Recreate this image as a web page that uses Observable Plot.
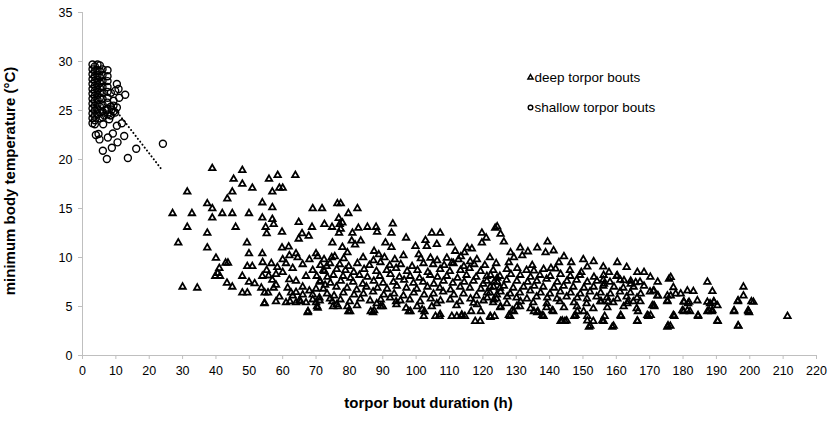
<!DOCTYPE html>
<html>
<head>
<meta charset="utf-8">
<script src="https://cdn.jsdelivr.net/npm/d3@7"></script>
<script src="https://cdn.jsdelivr.net/npm/@observablehq/plot@0.6"></script>
<style>
  html, body { margin: 0; padding: 0; background: #fff; }
  #chart { width: 829px; height: 421px; }
</style>
</head>
<body>
<div id="chart"></div>
<script>
const xTicks = [0,10,20,30,40,50,60,70,80,90,100,110,120,130,140,150,160,170,180,190,200,210,220];
const yTicks = [0,5,10,15,20,25,30,35];
const xTitle = "torpor bout duration (h)";
const yTitle = "minimum body temperature (°C)";
const legendLabels = ["deep torpor bouts", "shallow torpor bouts"];

// dotted trend line (duration h, Tb min °C)
const trendLine = [[9.8,25.1],[23.7,19.0]];

// shallow torpor bouts: [duration h, minimum Tb °C]
const shallowBouts = [
  [3.0,29.7],[3.0,29.2],[3.0,28.7],[3.0,28.2],[3.0,27.7],[3.0,27.2],[3.0,26.7],[3.0,26.2],[3.0,25.7],[3.0,25.2],[3.0,24.7],[3.0,24.2],[3.0,23.7],
  [3.7,29.5],[3.7,29.0],[3.7,28.5],[3.7,28.0],[3.7,27.5],[3.7,27.0],[3.7,26.5],[3.7,26.0],[3.7,25.5],[3.7,25.0],[3.7,24.5],[3.7,24.0],[3.7,23.6],
  [4.5,29.7],[4.5,29.1],[4.5,28.6],[4.5,28.1],[4.5,27.6],[4.5,27.1],[4.5,26.6],[4.5,26.1],[4.5,25.6],[4.5,25.1],[4.5,24.6],
  [5.2,29.6],[5.2,29.0],[5.2,28.4],[5.2,27.8],[5.2,27.3],[5.2,26.8],[5.2,26.3],[5.2,25.4],[5.2,24.8],[5.2,24.2],
  [6.0,29.2],[6.0,28.6],[6.0,28.0],[6.0,27.4],[6.0,26.8],[6.0,26.2],[6.0,25.6],[6.0,24.9],[6.0,24.3],
  [7.5,29.1],[7.5,28.5],[7.5,28.0],[7.5,27.4],[7.5,26.9],[7.5,26.3],[7.5,25.8],[7.5,25.2],[7.5,24.6],
  [8.5,26.8],[8.5,25.4],[8.5,24.5],
  [10.3,27.7],[12.8,26.6],[9.8,27.0],[9.3,26.0],[10.3,25.3],[9.3,24.9],[10.8,27.2],[11.0,26.3],[8.0,24.1],[6.5,24.5],
  [7.3,25.0],[8.8,25.1],[9.3,25.5],[8.3,24.5],[9.8,24.8],
  [4.8,22.6],[5.1,22.05],[4.0,22.5],[6.1,20.9],[7.3,20.05],[7.6,22.25],[9.1,22.65],[8.8,21.2],[10.5,21.75],
  [12.5,22.4],[11.8,23.7],[10.3,23.45],[13.6,20.15],[16.1,21.1],[24.1,21.6],[6.2,23.6]
];

// deep torpor bouts: [duration h, minimum Tb °C]
const deepBouts = [
  // 25-73 h
  [38.9,19.1],[47.9,18.9],[45.3,18.0],[47.9,17.5],[50.9,17.1],[55.9,18.0],[58.5,18.4],[63.8,18.4],[59.0,17.1],[60.0,17.1],
  [56.9,16.7],[44.9,16.7],[43.4,16.0],[31.4,16.7],[37.4,15.5],[38.9,15.0],[38.9,14.05],[27.0,14.5],[32.8,14.5],[41.9,14.5],
  [44.9,14.5],[49.9,14.5],[53.9,15.6],[56.9,15.1],[53.9,14.05],[56.9,13.9],[57.3,13.4],[54.9,13.1],[55.2,12.45],[59.8,12.6],
  [64.8,13.6],[69.0,15.0],[71.8,15.0],[45.9,13.1],[31.4,13.1],[37.4,12.5],[28.7,11.5],[37.4,11.0],[49.3,11.5],[49.9,10.4],
  [53.9,10.4],[59.8,11.0],[61.8,11.1],[64.0,10.4],[64.5,10.0],[65.8,12.45],[67.8,12.2],[68.8,13.1],[64.8,11.9],[72.5,13.4],
  [70.0,10.4],[70.5,10.1],[40.0,9.95],[42.9,9.45],[43.6,9.45],[41.0,8.9],[40.5,8.4],[39.8,8.1],[41.2,8.1],[49.4,9.1],
  [50.9,9.1],[54.0,9.5],[56.6,9.4],[58.4,9.0],[61.0,9.4],[55.2,8.7],[47.9,8.1],[49.9,7.5],[51.6,7.35],[53.9,8.1],
  [55.8,8.15],[56.9,7.7],[43.3,7.4],[44.9,7.0],[30.0,7.0],[34.4,6.9],[47.9,6.4],[49.4,6.4],[53.6,6.9],[54.6,6.4],
  [55.6,6.4],[57.3,6.9],[58.0,7.2],[54.6,5.35],[62.0,7.75],[64.0,7.6],[61.5,6.9],[62.5,6.4],[64.0,6.45],[61.0,5.4],
  [64.0,5.4],[67.0,5.4],[69.0,5.7],[67.5,4.4],[70.5,4.85],[67.0,8.1],[69.0,8.7],[70.2,8.1],[71.2,7.6],[72.7,7.2],
  [72.2,8.7],[73.2,9.1],
  [60.0,8.5],[63.0,8.9],[66.0,9.3],[68.0,9.8],[66.0,7.0],[68.0,6.6],[70.0,6.8],[59.0,6.0],[63.0,6.1],[66.0,6.2],
  [69.0,6.2],[71.0,5.9],[58.0,5.5],[65.0,5.6],[70.0,5.4],[60.0,9.8],[62.0,10.2],[58.0,8.3],[54.5,5.3],[62.2,5.5],[65.4,5.5],
  // 71-125 h, scattered
  [76.4,15.5],[77.4,15.5],[82.4,15.0],[79.7,14.5],[76.8,14.0],[74.8,13.1],[77.1,13.4],[77.9,13.55],[80.9,12.5],[82.7,13.0],
  [85.4,13.1],[88.0,13.1],[88.3,12.6],[93.0,13.45],[92.6,12.5],[97.0,12.0],[90.8,11.5],[92.6,11.05],[74.9,11.5],[76.9,12.5],
  [77.4,12.9],[80.7,11.7],[81.7,11.3],[83.4,11.7],[87.4,10.65],[88.8,10.3],[77.9,11.05],[79.4,10.5],[74.7,10.0],[99.8,11.15],
  [100.8,10.3],[102.8,11.75],[104.7,12.5],[107.2,12.5],[106.2,11.35],[103.2,11.15],[104.3,9.95],[111.7,10.65],[114.5,10.5],[116.7,10.9],
  [119.7,12.5],[119.7,11.5],[123.7,13.0],[109.2,9.95],[110.7,9.45],[112.7,9.8],[116.2,9.6],[110.3,11.5],[115.3,11.0],
  [74.9,5.5],[79.4,5.0],[79.7,4.5],[86.4,4.5],[89.4,5.0],[94.0,5.5],[97.0,4.85],[97.8,4.5],[101.8,4.7],[104.7,5.0],
  [105.8,4.0],[110.7,4.0],[113.7,4.15],[117.7,3.5],[122.2,4.0],[117.2,5.35],
  // 71-125 h, dense core
  [72.4,9.8],[75.6,10.1],[78.3,9.9],[84.1,10.0],[87.2,9.7],[90.5,10.0],[93.6,9.8],[96.2,10.2],[101.4,9.9],[106.3,9.7],[113.4,10.1],[118.2,9.8],[122.1,10.0],
  [71.3,9.2],[74.2,9.4],[77.1,9.3],[79.8,9.1],[82.4,9.4],[86.0,9.2],[89.3,9.5],[92.1,9.2],[95.4,9.3],[98.8,9.1],[102.2,9.4],[105.1,9.3],[108.4,9.2],[111.2,9.4],[114.3,9.1],[117.4,9.3],[120.6,9.2],[124.0,9.4],
  [72.5,8.6],[76.2,8.8],[78.8,8.7],[81.3,8.5],[84.4,8.8],[88.1,8.6],[91.2,8.7],[94.0,8.9],[97.3,8.6],[100.4,8.7],[103.5,8.5],[107.2,8.8],[110.1,8.6],[113.3,8.7],[116.0,8.9],[119.3,8.6],[123.1,8.7],
  [73.4,8.0],[75.2,8.2],[78.1,8.1],[80.3,7.9],[83.0,8.2],[85.4,8.0],[89.1,8.1],[92.3,8.3],[95.0,8.0],[98.2,8.1],[101.0,7.9],[104.2,8.2],[106.4,8.0],[109.2,8.1],[112.4,7.9],[115.1,8.2],[118.0,8.0],[121.2,8.1],[124.3,7.9],
  [71.2,7.5],[74.3,7.4],[77.4,7.6],[81.1,7.5],[84.0,7.3],[87.3,7.6],[90.1,7.4],[93.2,7.5],[96.4,7.7],[99.2,7.4],[102.1,7.5],[105.3,7.3],[108.2,7.6],[111.0,7.4],[114.4,7.5],[117.2,7.6],[120.1,7.3],[123.4,7.5],
  [72.2,6.8],[76.1,7.0],[79.3,6.9],[82.2,6.7],[85.1,7.0],[88.4,6.9],[91.3,6.8],[94.2,7.1],[97.1,6.9],[100.2,6.8],[103.4,7.0],[107.1,6.9],[110.3,6.7],[113.2,7.0],[116.1,6.9],[119.4,6.8],[122.2,7.0],[125.1,6.9],
  [73.3,6.3],[75.4,6.1],[78.2,6.4],[81.4,6.2],[84.2,6.3],[87.1,6.5],[90.3,6.2],[93.4,6.3],[96.2,6.1],[99.3,6.4],[102.4,6.2],[105.2,6.3],[108.1,6.5],[111.3,6.2],[114.2,6.3],[118.1,6.1],[121.3,6.4],[124.2,6.2],
  [71.1,5.6],[74.2,5.8],[77.3,5.7],[80.1,5.5],[83.3,5.8],[86.2,5.6],[89.4,5.7],[92.2,5.9],[95.3,5.6],[98.1,5.7],[101.2,5.5],[104.4,5.8],[107.3,5.6],[110.2,5.7],[113.1,5.5],[116.3,5.8],[120.2,5.6],[123.3,5.7],
  [76.2,5.2],[82.3,5.1],[88.2,5.3],[94.1,5.2],[100.3,5.0],[106.2,5.3],[112.1,5.1],[118.3,5.2],
  // 121-175 h, scattered
  [124.3,13.15],[125.3,12.4],[136.3,11.0],[138.8,10.5],[128.3,10.5],[131.8,10.2],[129.3,10.0],[127.8,9.5],[144.3,10.1],[142.8,9.5],
  [141.8,8.85],[134.8,9.2],[135.3,8.65],[151.3,9.05],[149.5,8.5],[156.1,9.05],[157.8,8.5],[166.3,8.5],[168.3,8.5],[160.3,8.15],
  [162.3,7.65],[164.3,7.3],[165.8,7.45],[156.1,7.7],[156.3,7.3],[171.1,6.6],[172.3,6.1],[175.8,7.8],[175.3,6.1],
  [121.0,12.0],[126.3,11.6],[131.2,11.0],[133.5,10.6],[139.4,11.6],[141.2,10.7],[146.5,9.5],[150.1,9.8],[153.2,9.6],[160.3,9.5],
  [163.1,9.0],[170.2,8.0],[172.4,7.5],
  [122.3,3.9],[127.8,4.1],[128.8,4.6],[136.3,4.4],[137.8,4.1],[140.8,4.6],[144.3,4.9],[143.8,3.55],[145.1,3.55],[147.8,4.1],
  [151.3,3.55],[151.8,2.9],[155.8,3.55],[158.8,2.9],[161.3,4.1],[166.3,3.55],[169.3,4.1],[170.8,5.1],[175.3,2.9],
  // 121-170 h, dense core
  [127.2,8.8],[130.3,8.9],[133.1,8.7],[138.2,8.8],[140.4,8.9],[146.1,8.7],
  [122.3,8.2],[125.1,8.1],[128.4,8.3],[131.2,8.2],[134.3,8.0],[137.1,8.2],[140.2,8.1],[143.3,8.3],[146.2,8.1],[149.1,8.2],[153.3,8.0],[156.2,8.2],[160.1,8.1],
  [121.2,7.6],[124.3,7.5],[127.1,7.7],[130.2,7.6],[133.4,7.5],[136.2,7.6],[139.1,7.8],[142.3,7.5],[145.2,7.6],[148.1,7.7],[151.3,7.5],[154.2,7.6],[158.1,7.5],[161.2,7.7],[164.3,7.6],[167.1,7.5],
  [123.2,7.0],[126.3,7.1],[129.1,6.9],[132.2,7.0],[135.4,7.1],[138.1,7.0],[141.3,6.9],[144.2,7.1],[147.1,7.0],[150.3,6.9],[153.2,7.0],[156.1,7.1],[159.3,7.0],[162.1,6.9],[165.2,7.0],[168.3,7.1],
  [122.1,6.4],[125.3,6.5],[128.2,6.3],[131.1,6.4],[134.2,6.6],[137.3,6.4],[140.1,6.3],[143.2,6.5],[146.3,6.4],[149.2,6.3],[152.1,6.5],[155.3,6.4],[158.2,6.3],[161.1,6.5],[164.2,6.4],[167.3,6.3],[170.1,6.5],
  [121.3,5.9],[124.1,5.8],[127.3,6.0],[130.1,5.9],[133.2,5.8],[136.1,6.0],[139.3,5.9],[142.2,5.8],[145.1,6.0],[148.3,5.9],[151.2,5.8],[154.1,6.0],[157.2,5.9],[160.3,5.8],[163.1,6.0],[166.2,5.9],
  [123.1,5.4],[127.2,5.3],[131.3,5.5],[135.1,5.4],[139.2,5.3],[143.1,5.5],[147.3,5.4],[151.1,5.3],[155.2,5.5],[159.1,5.4],[163.3,5.3],[167.2,5.5],
  [125.2,4.9],[130.1,5.0],[134.3,4.8],[139.1,4.9],[148.2,5.0],[153.1,4.8],[157.3,4.9],[162.2,5.0],[166.1,4.8],
  // 170-212 h
  [176.3,7.98],[171.3,6.6],[172.5,6.1],[177.1,6.95],[176.3,6.1],[177.8,6.3],[175.3,5.6],[179.3,6.3],[180.3,5.45],[179.8,4.6],
  [181.3,6.6],[183.1,6.55],[181.8,5.45],[184.3,5.6],[181.3,4.6],[177.1,4.1],[175.5,3.05],[184.5,4.1],[187.3,7.5],[188.8,6.55],
  [187.3,5.45],[189.3,5.45],[190.3,5.1],[187.8,4.6],[188.8,4.6],[190.3,3.55],[195.3,4.6],[196.5,5.6],[198.1,7.0],[198.1,6.1],
  [201.1,5.45],[199.5,4.6],[196.5,3.05],[211.3,4.0],[170.3,4.1],[171.3,5.1],
  // low values (3-5.5 °C)
  [67.6,4.5],[70.3,5.0],[75.1,5.0],[76.6,5.0],[80.2,4.5],[87.1,4.4],[87.4,4.6],[90.0,5.0],[98.3,4.5],[102.3,4.0],
  [102.5,4.5],[107.0,4.0],[107.2,4.2],[112.2,4.0],[113.6,4.0],[114.6,4.0],[116.5,4.5],[119.2,3.5],[119.4,4.5],[123.5,4.0],
  [125.3,5.0],[128.2,4.0],[129.3,4.5],[131.1,5.0],[135.3,4.5],[136.5,4.5],[138.2,4.0],[141.1,4.5],[143.3,3.5],[144.6,3.5],
  [147.4,4.0],[148.3,4.5],[150.2,4.5],[151.3,4.0],[152.2,3.0],[153.1,3.5],[156.2,3.5],[156.5,4.0],[159.2,3.0],[161.4,4.0],
  [166.3,3.5],[166.5,4.5],[169.6,4.0],[171.4,5.0],[176.2,3.0],[177.4,4.0],[180.2,4.5],[182.1,4.5],[184.5,4.0],[187.3,4.5],
  [188.6,4.5],[190.4,3.5],[195.3,4.5],[196.6,3.0],[199.6,4.5],[199.8,4.4],
  [155.5,5.5],[157.5,5.5],[163.5,5.5],[165.1,5.5],[175.3,5.5],[180.2,5.5],[181.5,5.3],[188.1,5.3],[189.2,5.5],[196.4,5.5],[200.5,5.5]
];

const font = "'Liberation Sans', Arial, Helvetica, sans-serif";
const gray = "#bfbfbf";

const chart = Plot.plot({
  width: 829,
  height: 421,
  marginTop: 12,
  marginBottom: 66,
  marginLeft: 82,
  marginRight: 13,
  style: { fontFamily: font, fontSize: "12.5px", color: "#000", background: "#fff", overflow: "visible" },
  x: { domain: [0, 220] },
  y: { domain: [0, 35] },
  marks: [
    Plot.ruleX([0], { stroke: gray, strokeWidth: 1 }),
    Plot.ruleY([0], { stroke: gray, strokeWidth: 1 }),
    Plot.axisX({ ticks: xTicks, tickSize: 4, tickPadding: 7, stroke: gray, fill: "#000", label: null, fontSize: 12.5 }),
    Plot.axisY({ ticks: yTicks, tickSize: 4, tickPadding: 6, stroke: gray, fill: "#000", label: null, fontSize: 12.5 }),
    Plot.line(trendLine, { x: d => d[0], y: d => d[1], stroke: "#000", strokeWidth: 2, strokeDasharray: "0.1,3.6", strokeLinecap: "round" }),
    Plot.dot(deepBouts, { x: d => d[0], y: d => d[1], symbol: "triangle", r: 2.4, fill: "none", stroke: "#000", strokeWidth: 1.8 }),
    Plot.dot(shallowBouts, { x: d => d[0], y: d => d[1], symbol: "circle", r: 3.5, fill: "none", stroke: "#000", strokeWidth: 1.4 }),
    // legend
    Plot.dot([legendLabels[0]], { frameAnchor: "top-right", dx: -286, dy: 65, symbol: "triangle", r: 1.9, fill: "none", stroke: "#000", strokeWidth: 1.5 }),
    Plot.dot([legendLabels[1]], { frameAnchor: "top-right", dx: -286, dy: 95, symbol: "circle", r: 2.3, fill: "none", stroke: "#000", strokeWidth: 1.4 }),
    Plot.text([legendLabels[0]], { text: d => d, frameAnchor: "top-right", dx: -282, dy: 65, textAnchor: "start", lineAnchor: "middle", fontSize: 13.5, fill: "#000" }),
    Plot.text([legendLabels[1]], { text: d => d, frameAnchor: "top-right", dx: -282, dy: 95, textAnchor: "start", lineAnchor: "middle", fontSize: 13.5, fill: "#000" }),
    // axis titles
    Plot.text([xTitle], { text: d => d, frameAnchor: "bottom", dx: -21, dy: 48, textAnchor: "middle", lineAnchor: "middle", fontSize: 15, fontWeight: "bold", fill: "#000" }),
    Plot.text([yTitle], { text: d => d, frameAnchor: "left", dx: -72, dy: -3, rotate: -90, textAnchor: "middle", lineAnchor: "middle", fontSize: 15, fontWeight: "bold", fill: "#000" })
  ]
});
document.getElementById("chart").appendChild(chart);
</script>
</body>
</html>
